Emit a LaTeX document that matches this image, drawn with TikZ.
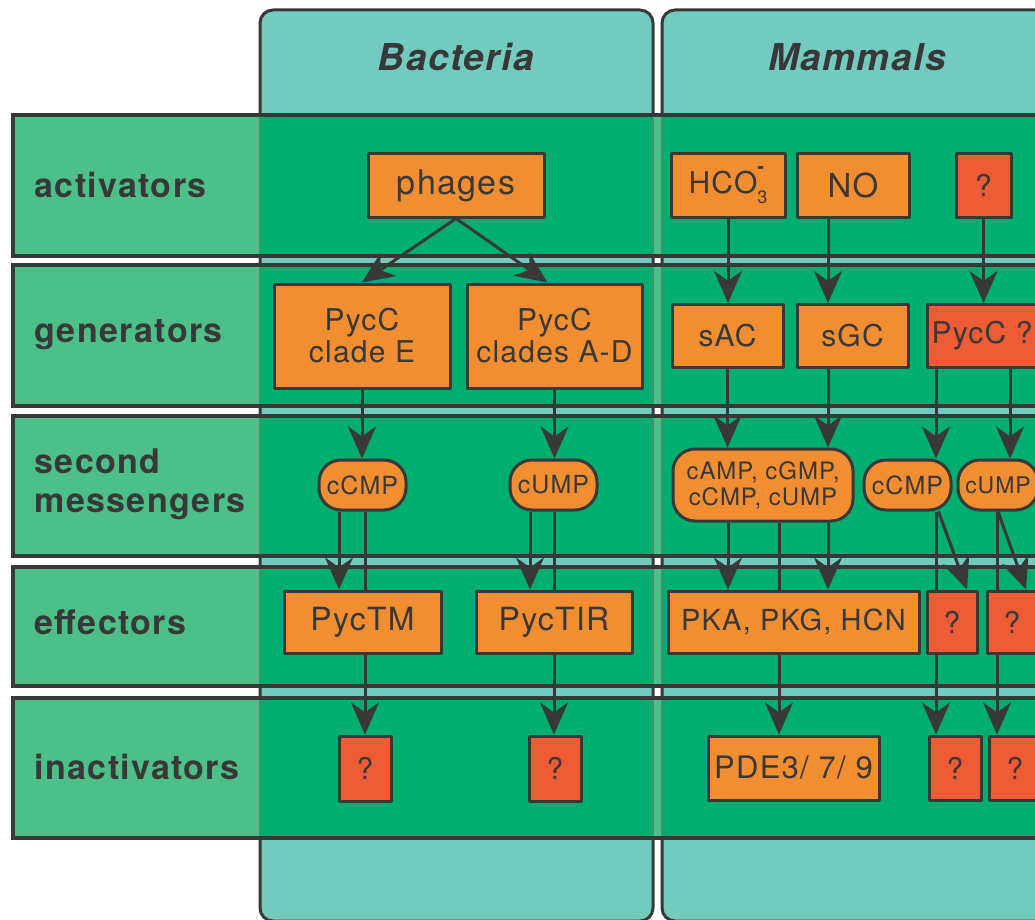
\documentclass[tikz,border=0pt]{standalone}
\usepackage{fontspec}
\setmainfont{TeX Gyre Heros}[LetterSpace=4]
\usetikzlibrary{arrows.meta,positioning}
\definecolor{colteal}{HTML}{72CBBE}
\definecolor{rowlight}{HTML}{4DC08A}
\definecolor{rowdark}{HTML}{00AE6F}
\definecolor{boxorange}{HTML}{F28E32}
\definecolor{boxred}{HTML}{EE5C36}
\definecolor{ink}{HTML}{383838}
\definecolor{seam}{HTML}{3E9468}
\pgfdeclarelayer{bg}
\pgfdeclarelayer{wires}
\pgfsetlayers{bg,wires,main}
\tikzset{
    gbox/.style={draw=ink,line width=3pt,fill=boxorange,text=ink,inner sep=0pt,
        align=center,font=\fontsize{30}{32}\selectfont},
    qbox/.style={gbox,fill=boxred},
    pill/.style={gbox,rounded corners=22pt,font=\fontsize{25}{28}\selectfont},
    rowlab/.style={anchor=west,text=ink,align=left,font=\bfseries\fontsize{34}{39}\selectfont},
    colhead/.style={text=ink,font=\bfseries\itshape\fontsize{37}{40}\selectfont},
    arr/.style={draw=ink,line width=3pt,-{Stealth[length=32pt,width=28pt,inset=10pt]}}
}

\begin{document}
\begin{tikzpicture}[x=1pt,y=-1pt,line join=round]
    \useasboundingbox (0,0) rectangle (1035,920);
    \begin{pgfonlayer}{bg}
        % columns
        \foreach \xa/\xb in {260/653,662/1100}
            \draw[fill=colteal,draw=ink,line width=3pt,rounded corners=13pt]
                (\xa,10) rectangle (\xb,921);
        % rows
        \foreach \ya/\yb in {115/256,265/406,416/556,567/686,698/838}{
            \fill[rowlight] (13,\ya) rectangle (1100,\yb);
            \begin{scope}
                \clip (13,\ya) rectangle (1100,\yb);
                \foreach \xa/\xb in {260/653,662/1100}
                    \draw[fill=rowdark,draw=seam,line width=2pt] (\xa,0) rectangle (\xb,1000);
            \end{scope}
            \draw[ink,line width=3.5pt] (13,\ya) rectangle (1100,\yb);
        }
    \end{pgfonlayer}

    \node[colhead] (hbac) at (456,57) {Bacteria};
    \node[colhead] (hmam) at (857,57) {Mammals};

    \node[rowlab] (lact) at (31,185) {activators};
    \node[rowlab] (lgen) at (31,335) {generators};
    \node[rowlab] (lsec) at (31,484) {second\\messengers};
    \node[rowlab] (leff) at (31,622) {effectors};
    \node[rowlab] (lina) at (31,767) {inactivators};

    % bacteria
    \node[gbox,minimum width=176pt,minimum height=63pt,font=\fontsize{34}{36}\selectfont]
        (phg) at (456,185.5) {phages};
    \node[gbox,minimum width=176pt,minimum height=104pt] (pycE) at (362,336) {PycC\\clade E};
    \node[gbox,minimum width=175pt,minimum height=104pt] (pycAD) at (554.5,336) {PycC\\clades A-D};
    \node[pill,minimum width=87pt,minimum height=50pt] (ccmpB) at (362.5,485) {cCMP};
    \node[pill,minimum width=87pt,minimum height=50pt] (cumpB) at (553.5,485) {cUMP};
    \node[gbox,minimum width=157pt,minimum height=62pt,font=\fontsize{32}{34}\selectfont]
        (tmB) at (362.5,622) {PycTM};
    \node[gbox,minimum width=156pt,minimum height=62pt,font=\fontsize{32}{34}\selectfont]
        (tirB) at (554,622) {PycTIR};
    \node[qbox,minimum width=52pt,minimum height=65pt] (inB1) at (365,768.5) {?};
    \node[qbox,minimum width=52pt,minimum height=65pt] (inB2) at (555,768.5) {?};

    % mammals
    \node[gbox,minimum width=114pt,minimum height=63pt] (hco) at (728,185.5)
        {HCO\rlap{\raisebox{20pt}{\bfseries\fontsize{20}{20}\selectfont -}}\raisebox{-10pt}{\fontsize{18}{18}\selectfont 3}};
    \node[gbox,minimum width=112pt,minimum height=63pt,font=\fontsize{33}{35}\selectfont]
        (no) at (853,185.5) {NO};
    \node[qbox,minimum width=55pt,minimum height=63pt] (actQ) at (983.5,185.5) {?};
    \node[gbox,minimum width=111pt,minimum height=63pt] (sac) at (727.5,336) {sAC};
    \node[gbox,minimum width=111pt,minimum height=63pt] (sgc) at (852.5,336) {sGC};
    \node[qbox,minimum width=110pt,minimum height=63pt] (pycQ) at (982,336) {PycC ?};
    \node[pill,minimum width=180pt,minimum height=72pt,font=\fontsize{24}{26}\selectfont]
        (mixM) at (763,485) {cAMP, cGMP,\\cCMP, cUMP};
    \node[pill,minimum width=87pt,minimum height=50pt] (ccmpM) at (907.5,485) {cCMP};
    \node[pill,minimum width=80pt,minimum height=50pt,font=\fontsize{23}{26}\selectfont]
        (cumpM) at (998,485) {cUMP};
    \node[gbox,minimum width=251pt,minimum height=62pt,font=\fontsize{29}{31}\selectfont]
        (pka) at (793.5,622) {PKA, PKG, HCN};
    \node[qbox,minimum width=50pt,minimum height=62pt] (effQ1) at (952,622) {?};
    \node[qbox,minimum width=50pt,minimum height=62pt] (effQ2) at (1012,622) {?};
    \node[gbox,minimum width=171pt,minimum height=64pt,font=\fontsize{31}{33}\selectfont]
        (pde) at (793.5,768) {PDE3/ 7/ 9};
    \node[qbox,minimum width=52pt,minimum height=64pt] (inQ1) at (955,768) {?};
    \node[qbox,minimum width=52pt,minimum height=64pt] (inQ2) at (1015,768) {?};

    \begin{pgfonlayer}{wires}
        % bacteria
        \draw[arr] (phg.south) -- (pycE.north);
        \draw[arr] (phg.south) -- ([xshift=-7pt]pycAD.north);
        \draw[arr] (pycE.south) -- (pycE.south |- ccmpB.north);
        \draw[arr] (pycAD.south) -- (pycAD.south |- cumpB.north);
        \draw[arr] ([xshift=-23.5pt]ccmpB.south) -- ([xshift=-23.5pt]ccmpB.south |- tmB.north);
        \draw[arr] (inB1.north |- ccmpB.south) -- (inB1.north);
        \draw[arr] ([xshift=-23.5pt]cumpB.south) -- ([xshift=-23.5pt]cumpB.south |- tirB.north);
        \draw[arr] ([xshift=-1pt]inB2.north |- cumpB.south) -- ([xshift=-1pt]inB2.north);
        % mammals
        \draw[arr] (hco.south) -- (hco.south |- sac.north);
        \draw[arr] ([xshift=-25pt]no.south) -- ([xshift=-25pt]no.south |- sgc.north);
        \draw[arr] (actQ.south) -- (actQ.south |- pycQ.north);
        \draw[arr] (sac.south) -- (sac.south |- mixM.north);
        \draw[arr] ([xshift=-24.5pt]sgc.south) -- ([xshift=-24.5pt]sgc.south |- mixM.north);
        \draw[arr] ([xshift=-46pt]pycQ.south) -- ([xshift=-46pt]pycQ.south |- ccmpM.north);
        \draw[arr] ([xshift=28pt]pycQ.south) -- ([xshift=28pt]pycQ.south |- cumpM.north);
        \draw[arr] ([xshift=-35pt]mixM.south) -- ([xshift=-35pt]mixM.south |- pka.north);
        \draw[arr] ([xshift=65pt]mixM.south) -- ([xshift=65pt]mixM.south |- pka.north);
        \draw[arr] ([xshift=16pt]mixM.south) -- ([xshift=16pt]mixM.south |- pde.north);
        \draw[arr] ([xshift=28.5pt]ccmpM.south) -- ([xshift=28.5pt]ccmpM.south |- inQ1.north);
        \draw[arr] ([xshift=31pt]ccmpM.south) -- ([xshift=15pt]effQ1.north);
        \draw[arr] ([xshift=-1pt]cumpM.south) -- ([xshift=-1pt]cumpM.south |- inQ2.north);
        \draw[arr] ([xshift=0pt]cumpM.south) -- ([xshift=14pt]effQ2.north);
    \end{pgfonlayer}
\end{tikzpicture}
\end{document}
